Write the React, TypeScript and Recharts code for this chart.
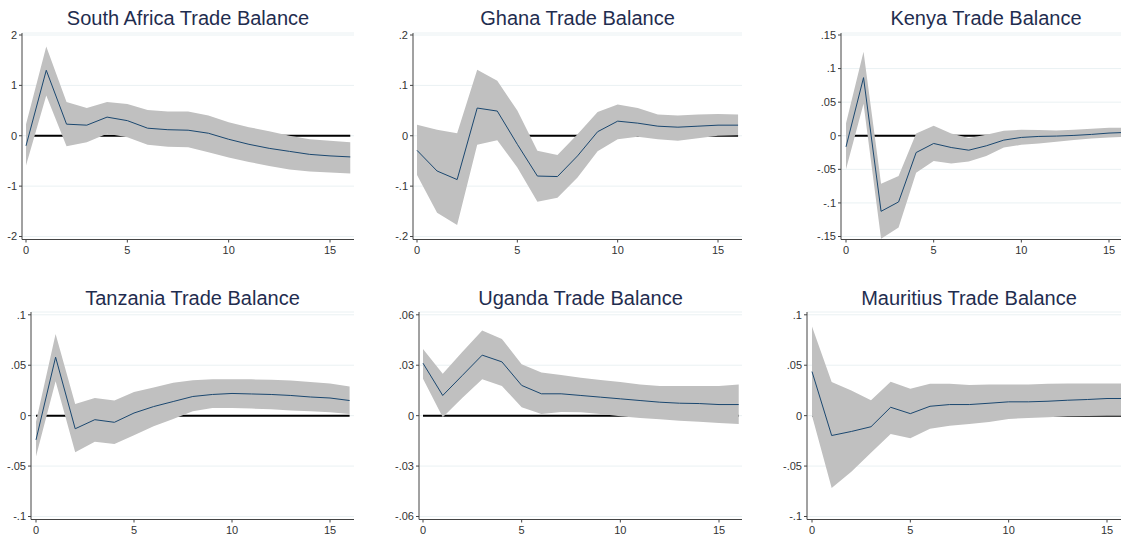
import React from 'react';
import { ComposedChart, Area, Line, XAxis, YAxis, CartesianGrid } from 'recharts';

// impulse response horizon
const steps = [0, 1, 2, 3, 4, 5, 6, 7, 8, 9, 10, 11, 12, 13, 14, 15, 16];
const xTicks = [0, 5, 10, 15];

// South Africa
const saIrf = [-0.2, 1.3, 0.23, 0.21, 0.37, 0.3, 0.15, 0.12, 0.11, 0.05, -0.07, -0.17, -0.25, -0.31, -0.37, -0.4, -0.42];
const saHi = [0.23, 1.77, 0.67, 0.55, 0.67, 0.63, 0.51, 0.48, 0.48, 0.4, 0.27, 0.17, 0.09, 0.0, -0.07, -0.1, -0.13];
const saLo = [-0.59, 0.8, -0.21, -0.13, 0.04, -0.03, -0.18, -0.22, -0.23, -0.33, -0.43, -0.52, -0.6, -0.67, -0.71, -0.73, -0.75];
const saTicks = [-2, -1, 0, 1, 2];

// Ghana
const ghIrf = [-0.029, -0.07, -0.087, 0.055, 0.049, -0.017, -0.08, -0.081, -0.04, 0.008, 0.029, 0.025, 0.019, 0.017, 0.019, 0.021, 0.021];
const ghHi = [0.022, 0.012, 0.005, 0.131, 0.109, 0.05, -0.03, -0.038, 0.003, 0.047, 0.062, 0.055, 0.042, 0.04, 0.042, 0.043, 0.042];
const ghLo = [-0.078, -0.153, -0.177, -0.018, -0.009, -0.063, -0.131, -0.123, -0.083, -0.031, -0.007, -0.002, -0.007, -0.01, -0.005, 0.0, 0.001];
const ghTicks = [-0.2, -0.1, 0, 0.1, 0.2];

// Kenya
const keIrf = [-0.0165, 0.0865, -0.1125, -0.0985, -0.025, -0.0115, -0.0175, -0.0215, -0.015, -0.0065, -0.0025, -0.001, -0.0005, 0.0005, 0.002, 0.004, 0.005];
const keHi = [0.0185, 0.125, -0.0715, -0.06, 0.0035, 0.015, 0.0035, -0.0035, 0.0015, 0.0075, 0.009, 0.0085, 0.008, 0.009, 0.0105, 0.012, 0.012];
const keLo = [-0.05, 0.0475, -0.1535, -0.1365, -0.055, -0.0375, -0.0415, -0.0385, -0.03, -0.0175, -0.0135, -0.0115, -0.009, -0.0065, -0.004, -0.0025, -0.0015];
const keTicks = [-0.15, -0.1, -0.05, 0, 0.05, 0.1, 0.15];

// Tanzania
const tzIrf = [-0.024, 0.058, -0.013, -0.004, -0.0066, 0.0026, 0.009, 0.014, 0.019, 0.021, 0.022, 0.0215, 0.021, 0.02, 0.0185, 0.0175, 0.015];
const tzHi = [-0.006, 0.081, 0.0116, 0.0176, 0.015, 0.0235, 0.028, 0.0325, 0.035, 0.036, 0.036, 0.036, 0.0357, 0.0348, 0.0334, 0.0318, 0.029];
const tzLo = [-0.0404, 0.034, -0.0364, -0.026, -0.028, -0.0195, -0.0106, -0.0033, 0.0043, 0.0076, 0.0076, 0.007, 0.0063, 0.005, 0.0043, 0.0033, 0.0017];
const tzTicks = [-0.1, -0.05, 0, 0.05, 0.1];

// Uganda
const ugIrf = [0.0312, 0.012, 0.024, 0.036, 0.032, 0.018, 0.013, 0.013, 0.012, 0.011, 0.01, 0.009, 0.008, 0.0074, 0.0072, 0.0066, 0.0066];
const ugHi = [0.0396, 0.025, 0.038, 0.0506, 0.0456, 0.0306, 0.0256, 0.0242, 0.0226, 0.0212, 0.02, 0.0186, 0.0176, 0.0176, 0.0176, 0.0176, 0.0186];
const ugLo = [0.022, -0.001, 0.0106, 0.0216, 0.0176, 0.005, 0.001, 0.0022, 0.002, 0.001, -0.0004, -0.0014, -0.0022, -0.003, -0.0036, -0.0044, -0.005];
const ugTicks = [-0.06, -0.03, 0, 0.03, 0.06];

// Mauritius
const muIrf = [0.0437, -0.0197, -0.0157, -0.011, 0.0083, 0.002, 0.0093, 0.011, 0.011, 0.0123, 0.0137, 0.0137, 0.0143, 0.0153, 0.016, 0.017, 0.017];
const muHi = [0.0883, 0.0333, 0.025, 0.0153, 0.0337, 0.0267, 0.0317, 0.0317, 0.0303, 0.031, 0.031, 0.031, 0.0317, 0.032, 0.032, 0.032, 0.032];
const muLo = [0.0, -0.0717, -0.0557, -0.0367, -0.0183, -0.0223, -0.013, -0.01, -0.0083, -0.0063, -0.0033, -0.0023, -0.0017, -0.0007, -0.0003, 0.0, 0.0];
const muTicks = [-0.1, -0.05, 0, 0.05, 0.1];

const FONT = '"Liberation Sans", Arial, sans-serif';
const YW = 40;
const MT = 10;
const MR = 10;
const XH = 24;

// Stata style labels: .05, -.1
const stataFmt = (v: number) => String(v).replace(/^(-?)0\./, '$1.');

type Row = { step: number; irf: number; band: [number, number]; zero: number };

function buildRows(irf: number[], lo: number[], hi: number[]): Row[] {
  return steps.map((s, i) => ({ step: s, irf: irf[i], band: [lo[i], hi[i]], zero: 0 }));
}

interface PanelProps {
  title: string;
  rows: Row[];
  ticks: number[];
  axisX: number;
  x0: number;
  x15: number;
  right: number;
  row: 'top' | 'bottom';
}

const ROWS = {
  top: { topY: 33, maxTickY: 35, minTickY: 236.5, axisY: 239.5, titleY: 18 },
  bottom: { topY: 311.5, maxTickY: 314.3, minTickY: 516, axisY: 519, titleY: 298 },
};

function Panel({ title, rows, ticks, axisX, x0, x15, right, row }: PanelProps) {
  const g = ROWS[row];
  const lim = ticks[ticks.length - 1];
  const pxPerUnit = (g.minTickY - g.maxTickY) / (2 * lim);
  const domTop = lim + (g.maxTickY - g.topY) / pxPerUnit;
  const domBottom = -lim - (g.axisY - g.minTickY) / pxPerUnit;
  const x16 = x0 + ((x15 - x0) * 16) / 15;
  const plotW = right - axisX;
  const plotH = g.axisY - g.topY;
  const width = YW + plotW + MR;
  const height = MT + plotH + XH;

  return (
    <>
      <div
        style={{
          position: 'absolute',
          left: axisX,
          width: plotW,
          top: g.titleY - 12,
          height: 24,
          lineHeight: '24px',
          textAlign: 'center',
          fontFamily: FONT,
          fontSize: 20,
          color: '#1f2d4f',
          whiteSpace: 'nowrap',
        }}
      >
        {title}
      </div>
      <div style={{ position: 'absolute', left: axisX - YW, top: g.topY - MT }}>
        <ComposedChart width={width} height={height} data={rows} margin={{ top: MT, right: MR, left: 0, bottom: 0 }}>
          <CartesianGrid horizontal vertical={false} stroke="#eaf1f3" />
          <XAxis
            dataKey="step"
            type="number"
            domain={[0, 16]}
            ticks={xTicks}
            padding={{ left: x0 - axisX, right: right - x16 }}
            height={XH}
            stroke="#444"
            tickSize={3}
            tickMargin={4}
            tick={{ fontSize: 11, fill: '#333', fontFamily: FONT }}
          />
          <YAxis
            type="number"
            domain={[domBottom, domTop]}
            ticks={ticks}
            width={YW}
            stroke="#444"
            tickSize={3}
            tickMargin={2}
            tickFormatter={stataFmt}
            tick={{ fontSize: 11, fill: '#333', fontFamily: FONT }}
            allowDataOverflow
          />
          <Area dataKey="zero" stroke="#000" strokeWidth={2} fill="none" fillOpacity={0} isAnimationActive={false} />
          <Area dataKey="band" type="linear" stroke="none" fill="#c0c0c0" fillOpacity={1} isAnimationActive={false} />
          <Line dataKey="irf" type="linear" stroke="#1a476f" strokeWidth={1} dot={false} activeDot={false} isAnimationActive={false} />
        </ComposedChart>
      </div>
    </>
  );
}

export default function App() {
  return (
    <div style={{ position: 'absolute', left: 0, top: 0, width: 1121, height: 538, overflow: 'hidden', background: '#fff' }}>
      <Panel title="South Africa Trade Balance" rows={buildRows(saIrf, saLo, saHi)} ticks={saTicks} axisX={22} x0={26} x15={330} right={354} row="top" />
      <Panel title="Ghana Trade Balance" rows={buildRows(ghIrf, ghLo, ghHi)} ticks={ghTicks} axisX={413} x0={417} x15={718} right={742} row="top" />
      <Panel title="Kenya Trade Balance" rows={buildRows(keIrf, keLo, keHi)} ticks={keTicks} axisX={841} x0={846} x15={1109} right={1131} row="top" />
      <Panel title="Tanzania Trade Balance" rows={buildRows(tzIrf, tzLo, tzHi)} ticks={tzTicks} axisX={31} x0={36} x15={330} right={354} row="bottom" />
      <Panel title="Uganda Trade Balance" rows={buildRows(ugIrf, ugLo, ugHi)} ticks={ugTicks} axisX={419} x0={423} x15={719} right={742} row="bottom" />
      <Panel title="Mauritius Trade Balance" rows={buildRows(muIrf, muLo, muHi)} ticks={muTicks} axisX={807} x0={812} x15={1107} right={1131} row="bottom" />
    </div>
  );
}
